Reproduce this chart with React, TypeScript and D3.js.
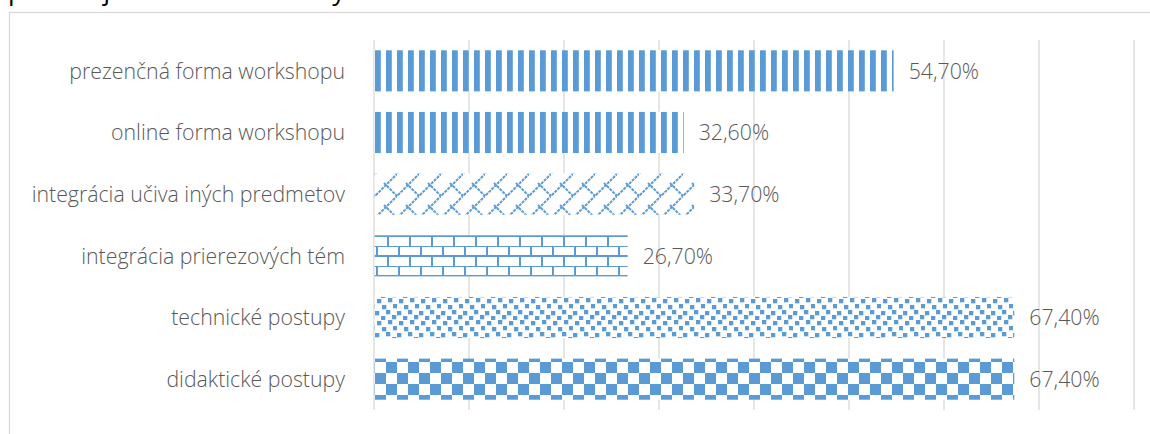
import React, { useEffect, useRef } from 'react';
import * as d3 from 'd3';

// chart data, top to bottom
const categories = [
  'prezenčná forma workshopu',
  'online forma workshopu',
  'integrácia učiva iných predmetov',
  'integrácia prierezových tém',
  'technické postupy',
  'didaktické postupy',
];
const values = [0.547, 0.326, 0.337, 0.267, 0.674, 0.674];
const valueLabels = ['54,70%', '32,60%', '33,70%', '26,70%', '67,40%', '67,40%'];
const patterns = ['pVert', 'pVert', 'pDiagBrick', 'pHorzBrick', 'pConfetti', 'pChecker'];
const xTicks = [0, 0.1, 0.2, 0.3, 0.4, 0.5, 0.6, 0.7, 0.8];
const title = 'pri tom je obsah kurzu nový';

const BLUE = '#5B9BD5';
const GRID = '#D9D9D9';
const TEXT = '#595959';
const FONT = '"Open Sans", "DejaVu Sans", sans-serif';

const App = () => {
  const ref = useRef<SVGSVGElement>(null);

  useEffect(() => {
    const width = 1150;
    const height = 434;
    const svg = d3.select(ref.current);
    svg.selectAll('*').remove();
    svg.attr('width', width).attr('height', height);

    const x = d3.scaleLinear().domain([0, 0.8]).range([374, 1134]);
    const y = d3.scaleBand()
      .domain(categories)
      .range([40, 410])
      .paddingInner(1 / 3)
      .paddingOuter(1 / 6);

    const defs = svg.append('defs');

    // dark vertical stripes
    const pv = defs.append('pattern').attr('id', 'pVert')
      .attr('patternUnits', 'userSpaceOnUse')
      .attr('x', 375).attr('y', 0).attr('width', 11).attr('height', 10);
    pv.append('rect').attr('width', 11).attr('height', 10).attr('fill', '#fff');
    pv.append('rect').attr('width', 5.8).attr('height', 10).attr('fill', BLUE);

    // diagonal brick
    const pd = defs.append('pattern').attr('id', 'pDiagBrick')
      .attr('patternUnits', 'userSpaceOnUse')
      .attr('x', 375).attr('y', 174).attr('width', 22).attr('height', 22);
    pd.append('rect').attr('width', 22).attr('height', 22).attr('fill', '#fff');
    pd.append('path')
      .attr('d', 'M-2,24L24,-2M9,9L22,22M-2,20L2,24M20,-2L24,2')
      .attr('stroke', BLUE).attr('stroke-width', 2)
      .attr('stroke-dasharray', '3,1').attr('fill', 'none');

    // horizontal brick
    const ph = defs.append('pattern').attr('id', 'pHorzBrick')
      .attr('patternUnits', 'userSpaceOnUse')
      .attr('x', 376).attr('y', 246).attr('width', 22).attr('height', 20);
    ph.append('rect').attr('width', 22).attr('height', 20).attr('fill', '#fff');
    ph.append('path')
      .attr('d', 'M0,0H22M0,10H22M1,0V10M12,10V20')
      .attr('stroke', BLUE).attr('stroke-width', 2).attr('fill', 'none');

    // large confetti
    const pc = defs.append('pattern').attr('id', 'pConfetti')
      .attr('patternUnits', 'userSpaceOnUse')
      .attr('x', 375).attr('y', 298).attr('width', 22).attr('height', 22);
    pc.append('rect').attr('width', 22).attr('height', 22).attr('fill', '#fff');
    const dots = [[2, 1], [13, 0], [7, 7], [18, 6], [0, 13], [11, 12], [6, 18], [17, 17]];
    pc.selectAll('rect.dot').data(dots).enter().append('rect')
      .attr('class', 'dot')
      .attr('x', d => d[0]).attr('y', d => d[1])
      .attr('width', 4.3).attr('height', 4.3).attr('fill', BLUE);

    // large checkerboard
    const pk = defs.append('pattern').attr('id', 'pChecker')
      .attr('patternUnits', 'userSpaceOnUse')
      .attr('x', 375).attr('y', 351).attr('width', 22).attr('height', 22);
    pk.append('rect').attr('width', 22).attr('height', 22).attr('fill', '#fff');
    pk.append('rect').attr('width', 11).attr('height', 11).attr('fill', BLUE);
    pk.append('rect').attr('x', 11).attr('y', 11).attr('width', 11).attr('height', 11).attr('fill', BLUE);

    // title (mostly cut off at the top, as in the source)
    svg.append('text')
      .attr('x', 8).attr('y', 0)
      .attr('font-family', FONT).attr('font-size', 26).attr('fill', '#000')
      .text(title);

    // chart frame
    svg.append('rect')
      .attr('x', 9.5).attr('y', 12.5)
      .attr('width', 1200).attr('height', 500)
      .attr('fill', 'none').attr('stroke', GRID).attr('stroke-width', 1.3);

    // gridlines
    svg.append('g')
      .selectAll('line')
      .data(xTicks)
      .enter()
        .append('line')
          .attr('x1', d => x(d)).attr('x2', d => x(d))
          .attr('y1', 40).attr('y2', 410)
          .attr('stroke', GRID).attr('stroke-width', 1.3);

    // bars
    svg.append('g')
      .selectAll('rect')
      .data(categories)
      .enter()
        .append('rect')
          .attr('x', x(0) + 0.7)
          .attr('y', d => y(d) as number)
          .attr('width', (d, i) => x(values[i]) - x(0) - 0.7)
          .attr('height', y.bandwidth())
          .attr('fill', (d, i) => `url(#${patterns[i]})`);

    // category labels
    svg.append('g')
      .selectAll('text')
      .data(categories)
      .enter()
        .append('text')
          .attr('x', 345)
          .attr('y', d => (y(d) as number) + y.bandwidth() / 2)
          .attr('dy', '0.36em')
          .attr('text-anchor', 'end')
          .attr('font-family', FONT).attr('font-weight', 300)
          .attr('font-size', 21.3).attr('fill', TEXT)
          .text(d => d);

    // value labels
    svg.append('g')
      .selectAll('text')
      .data(categories)
      .enter()
        .append('text')
          .attr('x', (d, i) => x(values[i]) + 15)
          .attr('y', d => (y(d) as number) + y.bandwidth() / 2)
          .attr('dy', '0.36em')
          .attr('font-family', FONT).attr('font-weight', 300)
          .attr('font-size', 21.3).attr('fill', TEXT)
          .text((d, i) => valueLabels[i]);
  }, []);

  return (
    <svg ref={ref} style={{ position: 'absolute', left: 0, top: 0, display: 'block' }} />
  );
};

export default App;
